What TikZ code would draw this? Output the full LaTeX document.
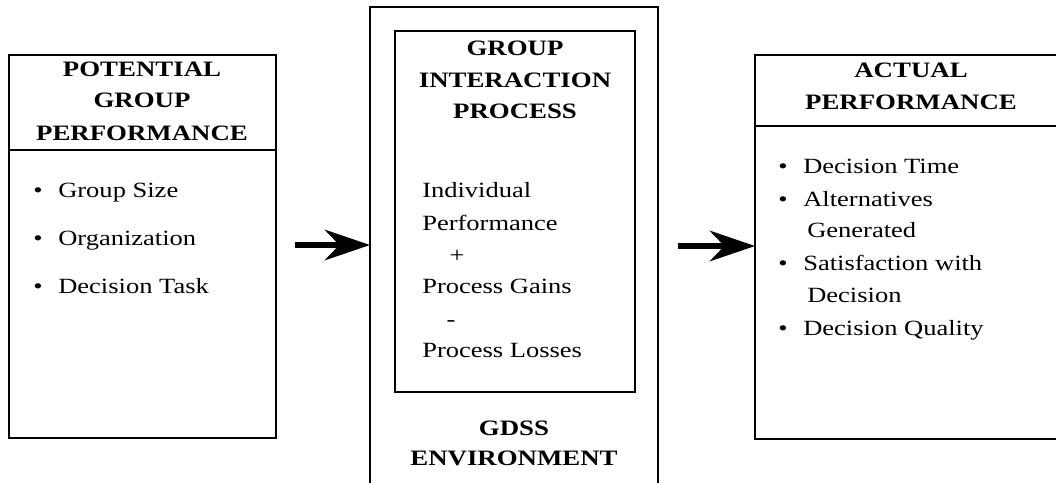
\documentclass[tikz,border=0pt]{standalone}
\usepackage{fontspec}
\setmainfont[FakeStretch=1.22]{Liberation Serif}
\usetikzlibrary{arrows.meta}
\begin{document}
\begin{tikzpicture}[x=0.75pt,y=-0.75pt,
  box/.style={draw, line width=1.4pt, rectangle, inner sep=0pt, outer sep=0pt, anchor=north west},
  rule/.style={line width=1.4pt},
  head/.style={font=\fontsize{16.5}{24}\selectfont\bfseries, anchor=base, inner sep=0pt},
  item/.style={font=\fontsize{16.3}{24}\selectfont, anchor=base west, inner sep=0pt},
  dot/.style={font=\fontsize{16.3}{24}\selectfont, anchor=base, inner sep=0pt},
  arr/.style={line width=3.8pt, -{Stealth[length=34pt,width=23pt,inset=11pt]}}]
\useasboundingbox (0,0) rectangle (1056,482);
\clip (0,0) rectangle (1056,482);

% boxes
\node[box, minimum width=200.25pt, minimum height=287.25pt] (pot) at (9,55) {};
\node[box, minimum width=216pt, minimum height=369.75pt] (env) at (370,7) {};
\node[box, minimum width=180pt, minimum height=270.75pt] (gip) at (395,31) {};
\node[box, minimum width=234pt, minimum height=288pt] (act) at (755,55) {};

% header rules
\draw[rule] (pot.north west) ++(0,95) -- ++(267,0);
\draw[rule] (act.north west) ++(0,71) -- ++(312,0);

% potential group performance
\node[head] (p1) at (142,76) {POTENTIAL};
\node[head] (p2) at (142,107) {GROUP};
\node[head] (p3) at (142,140) {PERFORMANCE};
\node[dot] (pb1) at (38,197) {\textbullet};
\node[item] (pt1) at (58,197) {Group Size};
\node[dot] (pb2) at (38,245) {\textbullet};
\node[item] (pt2) at (58,245) {Organization};
\node[dot] (pb3) at (38,293) {\textbullet};
\node[item] (pt3) at (58,293) {Decision Task};

% group interaction process
\node[head] (g1) at (515,55) {GROUP};
\node[head] (g2) at (515,87) {INTERACTION};
\node[head] (g3) at (515,118) {PROCESS};
\node[item] (gt1) at (422,197) {Individual};
\node[item] (gt2) at (422,230) {Performance};
\node[dot] (gt3) at (457,262) {+};
\node[item] (gt4) at (422,293) {Process Gains};
\node[dot] (gt5) at (451,326) {-};
\node[item] (gt6) at (422,357) {Process Losses};

% GDSS environment
\node[head] (e1) at (514,435) {GDSS};
\node[head] (e2) at (514,465) {ENVIRONMENT};

% actual performance
\node[head] (a1) at (911,77) {ACTUAL};
\node[head] (a2) at (911,109) {PERFORMANCE};
\node[dot] (ab1) at (783,173) {\textbullet};
\node[item] (at1) at (803,173) {Decision Time};
\node[dot] (ab2) at (783,206) {\textbullet};
\node[item] (at2) at (803,206) {Alternatives};
\node[item] (at3) at (807,237) {Generated};
\node[dot] (ab4) at (783,270) {\textbullet};
\node[item] (at4) at (803,270) {Satisfaction with};
\node[item] (at5) at (807,302) {Decision};
\node[dot] (ab6) at (783,335) {\textbullet};
\node[item] (at6) at (803,335) {Decision Quality};

% arrows
\coordinate (s1) at (295,245);
\coordinate (s2) at (678,246);
\draw[arr] (s1) -- (s1 -| env.west);
\draw[arr] (s2) -- (s2 -| act.west);
\end{tikzpicture}
\end{document}
